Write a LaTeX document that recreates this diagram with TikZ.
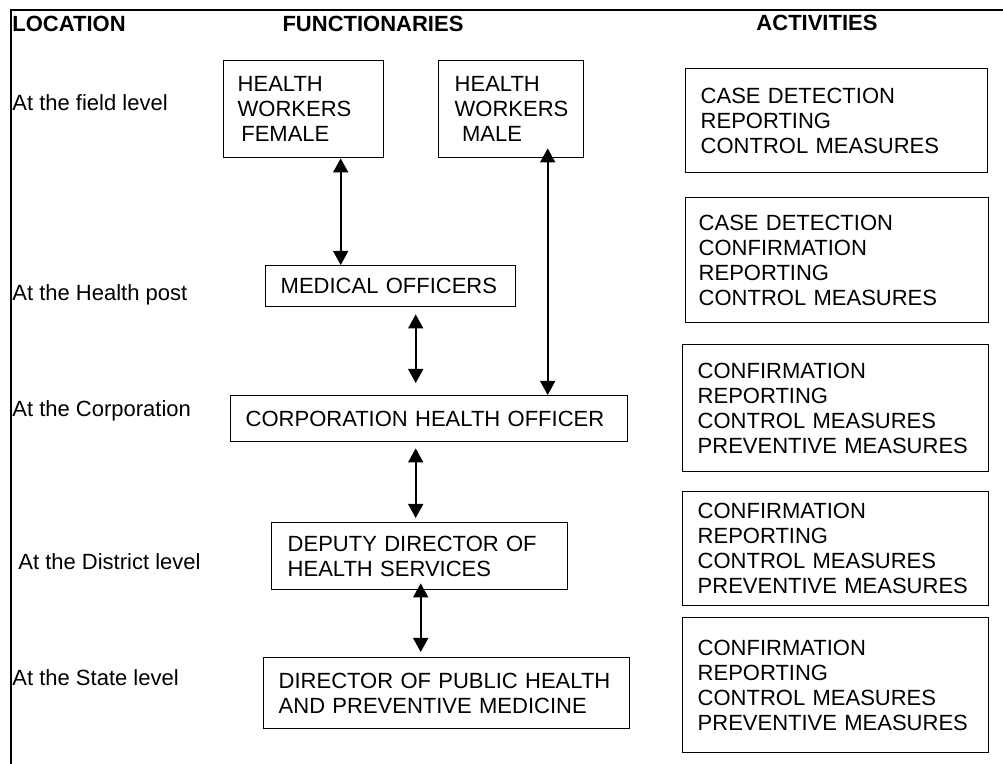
\documentclass[tikz,border=0pt]{standalone}
\usepackage{fontspec}
\setmainfont{Liberation Sans}
\usetikzlibrary{arrows.meta}
\hyphenpenalty=10000
\tikzset{
  box/.style={draw, line width=0.7pt, anchor=north west, align=left, inner ysep=0pt, font=\fontsize{11}{12.5}\selectfont},
  head/.style={inner sep=0pt, font=\fontsize{11}{12.5}\selectfont\bfseries},
  place/.style={anchor=west, inner sep=0pt, font=\fontsize{11}{12.5}\selectfont},
  dlink/.style={{Triangle[width=7.5pt,length=7pt]}-{Triangle[width=7.5pt,length=7pt]}, line width=0.8pt},
}
\begin{document}
\begin{tikzpicture}[x=0.5pt, y=-0.5pt]
    \useasboundingbox (0,0) rectangle (1003,764);
    \draw[line width=0.7pt] (11,764) -- (11,10) -- (1003,10);

    \node[head, anchor=west] (loc) at (12,24) {LOCATION};
    \node[head] (fun) at (373,24) {FUNCTIONARIES};
    \node[head] (act) at (817,23) {ACTIVITIES};

    \node[place] (field) at (12,103) {At the field level};
    \node[place] (post) at (12,295) {At the Health post};
    \node[place] (corp) at (12,411) {At the Corporation};
    \node[place] (dist) at (18,562) {At the District level};
    \node[place] (state) at (12,678) {At the State level};

    \node[box, inner xsep=7pt, text width=66pt, minimum height=48.5pt] (hwf) at (223,60) {HEALTH\\WORKERS\\\,FEMALE};
    \node[box, inner xsep=8pt, text width=56.5pt, minimum height=48.5pt] (hwm) at (438,60) {HEALTH\\WORKERS\\\ MALE};
    \node[box, inner xsep=7.5pt, text width=110pt, minimum height=20.5pt] (mo) at (265,265) {MEDICAL~OFFICERS};
    \node[box, inner xsep=7.5pt, text width=183.5pt, minimum height=23pt] (cho) at (230,395) {CORPORATION~HEALTH~OFFICER};
    \node[box, inner xsep=8pt, text width=132pt, minimum height=33.5pt] (ddhs) at (271,522) {DEPUTY DIRECTOR OF\\HEALTH SERVICES};
    \node[box, inner xsep=7.5pt, text width=168pt, minimum height=35.5pt] (dph) at (263,657) {DIRECTOR OF PUBLIC~HEALTH\\AND PREVENTIVE MEDICINE};

    \node[box, inner xsep=7.5pt, text width=136pt, minimum height=52pt] (act1) at (685,68) {CASE DETECTION\\REPORTING\\CONTROL~MEASURES};
    \node[box, inner xsep=6.5pt, text width=138.5pt, minimum height=62.5pt] (act2) at (685,197) {CASE DETECTION\\CONFIRMATION\\REPORTING\\CONTROL~MEASURES};
    \node[box, inner xsep=7.5pt, text width=138pt, minimum height=63.5pt] (act3) at (682,344) {CONFIRMATION\\REPORTING\\CONTROL~MEASURES\\PREVENTIVE~MEASURES};
    \node[box, inner xsep=7.5pt, text width=138pt, minimum height=57pt] (act4) at (682,491) {CONFIRMATION\\REPORTING\\CONTROL~MEASURES\\PREVENTIVE~MEASURES};
    \node[box, inner xsep=7.5pt, text width=138pt, minimum height=67.5pt] (act5) at (682,617) {CONFIRMATION\\REPORTING\\CONTROL~MEASURES\\PREVENTIVE~MEASURES};

    \draw[dlink] ([xshift=18.5pt]hwf.south) -- ([xshift=18.5pt]hwf.south |- mo.north);
    \draw[dlink] ([xshift=18.25pt,yshift=5pt]hwm.south) -- ([xshift=18.25pt]hwm.south |- cho.north);
    \draw[dlink, shorten <=3.5pt, shorten >=6pt] ([xshift=12.5pt]mo.south) -- ([xshift=12.5pt]mo.south |- cho.north);
    \draw[dlink, shorten <=3pt, shorten >=2pt] ([xshift=-6.75pt]cho.south) -- ([xshift=-6.75pt]cho.south |- ddhs.north);
    \draw[dlink, shorten <=-3.5pt, shorten >=2.5pt] ([xshift=0.5pt]ddhs.south) -- ([xshift=0.5pt]ddhs.south |- dph.north);
\end{tikzpicture}
\end{document}
